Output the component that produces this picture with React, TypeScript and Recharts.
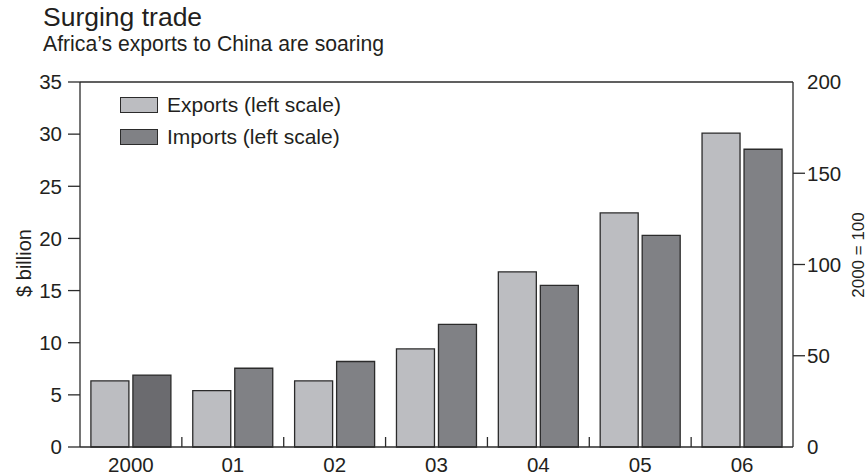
import React from 'react';
import { BarChart, Bar, XAxis, YAxis, Legend, ReferenceLine, Cell } from 'recharts';

const years = ['2000', '01', '02', '03', '04', '05', '06'];
const exportsBn = [6.35, 5.4, 6.35, 9.4, 16.8, 22.45, 30.1];
const importsBn = [6.9, 7.55, 8.2, 11.75, 15.5, 20.3, 28.55];
const leftTicks = [0, 5, 10, 15, 20, 25, 30, 35];
const rightTicks = [0, 50, 100, 150, 200];

const data = years.map((y, i) => ({ year: y, exports: exportsBn[i], imports: importsBn[i] }));

const W = 868;
const H = 476;
const PLOT_LEFT = 80;
const PLOT_RIGHT = 793;
const PLOT_TOP = 82;
const PLOT_BOTTOM = 447;
const BAND = (PLOT_RIGHT - PLOT_LEFT) / years.length;

const FONT = '"Liberation Sans", Arial, Helvetica, sans-serif';
const TEXT = '#231f20';
const AXIS = '#2b2b2b';
const EXP = '#bcbdc1';
const IMP = '#808185';
const IMP_FIRST = '#6b6b6f';

const XTick = (props: any) => {
  const { x, y, payload, index } = props;
  return (
    <g>
      {index > 0 && (
        <line x1={x - BAND / 2} x2={x - BAND / 2} y1={y} y2={y - 10} stroke={AXIS} strokeWidth={1.3} />
      )}
      <text x={x} y={y + 24.5} textAnchor="middle" fontSize={20.5} fontFamily={FONT} fill={TEXT}>
        {payload.value}
      </text>
    </g>
  );
};

const RightTick = (props: any) => {
  const { x, y, payload } = props;
  const v = payload.value;
  const showLine = v !== 0 && v !== 200;
  return (
    <g>
      {showLine && <line x1={x} x2={x + 12} y1={y} y2={y} stroke={AXIS} strokeWidth={1.3} />}
      <text x={x + 14} y={y} dy="0.36em" textAnchor="start" fontSize={20.5} fontFamily={FONT} fill={TEXT}>
        {v}
      </text>
    </g>
  );
};

const LegendContent = (props: any) => {
  const { payload } = props;
  return (
    <div style={{ fontFamily: FONT }}>
      {(payload || []).map((p: any, i: number) => (
        <div key={i} style={{ display: 'flex', alignItems: 'center', height: 16, marginBottom: 16 }}>
          <div
            style={{
              width: 36,
              height: 14,
              background: p.color,
              border: `1.3px solid ${AXIS}`,
              marginRight: 9,
            }}
          />
          <span style={{ fontSize: 21, lineHeight: '16px', color: TEXT, whiteSpace: 'nowrap' }}>{p.value}</span>
        </div>
      ))}
    </div>
  );
};

export default function App() {
  return (
    <div style={{ position: 'absolute', left: 0, top: 0, width: W, height: H, background: '#fff' }}>
      <BarChart
        width={W}
        height={H}
        data={data}
        margin={{ top: PLOT_TOP, right: 0, bottom: 0, left: 0 }}
        barCategoryGap="10.7%"
        barGap={4}
      >
        <XAxis
          dataKey="year"
          height={H - PLOT_BOTTOM}
          tickLine={false}
          tickSize={0}
          tickMargin={0}
          interval={0}
          axisLine={{ stroke: AXIS, strokeWidth: 1.3 }}
          tick={<XTick />}
        />
        <YAxis
          yAxisId="left"
          width={PLOT_LEFT}
          domain={[0, 35]}
          ticks={leftTicks}
          interval={0}
          tickSize={12}
          tickMargin={6}
          axisLine={{ stroke: AXIS, strokeWidth: 1.3 }}
          tickLine={{ stroke: AXIS, strokeWidth: 1.3 }}
          tick={{ fontSize: 20.5, fontFamily: FONT, fill: TEXT }}
        />
        <YAxis
          yAxisId="right"
          orientation="right"
          type="number"
          width={W - PLOT_RIGHT}
          domain={[0, 200]}
          allowDataOverflow
          ticks={rightTicks}
          interval={0}
          tickSize={0}
          tickMargin={0}
          tickLine={false}
          axisLine={{ stroke: AXIS, strokeWidth: 1.3 }}
          tick={<RightTick />}
        />
        <ReferenceLine yAxisId="left" y={35} stroke={AXIS} strokeWidth={1.3} />
        <Legend
          layout="horizontal"
          verticalAlign="middle"
          align="center"
          content={<LegendContent />}
          wrapperStyle={{ position: 'absolute', left: 120, top: 97, width: 'auto', height: 'auto' }}
        />
        <Bar
          yAxisId="left"
          dataKey="exports"
          name="Exports (left scale)"
          fill={EXP}
          stroke={AXIS}
          strokeWidth={1.3}
          isAnimationActive={false}
        />
        <Bar
          yAxisId="left"
          dataKey="imports"
          name="Imports (left scale)"
          fill={IMP}
          stroke={AXIS}
          strokeWidth={1.3}
          isAnimationActive={false}
        >
          {data.map((d, i) => (
            <Cell key={d.year} fill={i === 0 ? IMP_FIRST : IMP} />
          ))}
        </Bar>
      </BarChart>
      <svg
        width={W}
        height={H}
        style={{ position: 'absolute', left: 0, top: 0, pointerEvents: 'none' }}
      >
        <text x={43} y={26} fontSize={26.5} fontFamily={FONT} fill={TEXT}>
          Surging trade
        </text>
        <text x={43} y={50.7} fontSize={21.2} fontFamily={FONT} fill={TEXT}>
          Africa’s exports to China are soaring
        </text>
        <text
          x={24}
          y={263}
          fontSize={20}
          fontFamily={FONT}
          fill={TEXT}
          textAnchor="middle"
          dominantBaseline="central"
          transform="rotate(-90 24 263)"
        >
          $ billion
        </text>
        <text
          x={858}
          y={255}
          fontSize={17}
          fontFamily={FONT}
          fill={TEXT}
          textAnchor="middle"
          dominantBaseline="central"
          transform="rotate(-90 858 255)"
        >
          2000 = 100
        </text>
      </svg>
    </div>
  );
}
